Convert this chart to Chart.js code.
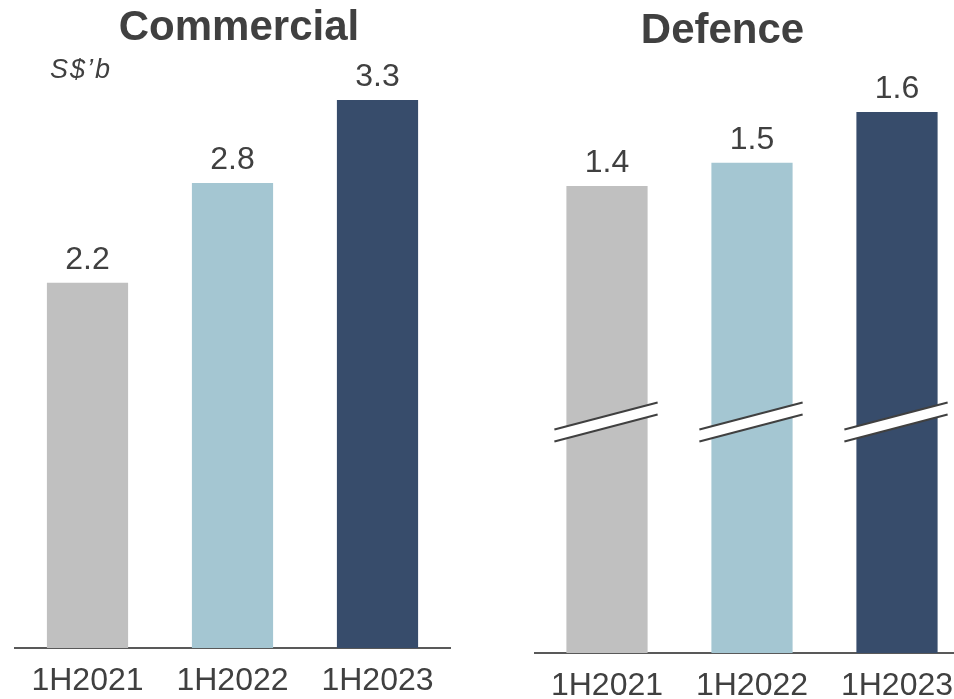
<!DOCTYPE html>
<html>
<head>
<meta charset="utf-8">
<title>Commercial / Defence</title>
<script src="https://cdn.jsdelivr.net/npm/chart.js@4/dist/chart.umd.min.js"></script>
<style>
  html, body { margin: 0; padding: 0; background: #fff; overflow: hidden; width: 954px; height: 699px; }
  .panel { position: absolute; top: 0; }
  #commercialWrap { left: 0; }
  #defenceWrap { left: 500px; }
</style>
</head>
<body>
<div class="panel" id="commercialWrap"><canvas id="commercialChart" width="478" height="699"></canvas></div>
<div class="panel" id="defenceWrap"><canvas id="defenceChart" width="480" height="699"></canvas></div>
<script>
  // ========== DATA ==========
  const periods = ['1H2021', '1H2022', '1H2023'];
  const commercialValues = [2.2, 2.8, 3.3];
  const defenceValues = [1.42, 1.47, 1.58];
  const defenceBreakAt = 0.91; // where the axis break sits on the defence bars

  const barColors = ['#C0C0C0', '#A4C6D2', '#374C6B'];
  const textColor = '#404040';
  const FONT = '"Liberation Sans", Arial, sans-serif';

  // titles + unit note
  const panelText = {
    id: 'panelText',
    afterDraw(chart, args, opts) {
      const ctx = chart.ctx;
      ctx.save();
      ctx.fillStyle = textColor;
      ctx.textAlign = 'center';
      ctx.textBaseline = 'alphabetic';
      ctx.font = 'bold 42px ' + FONT;
      ctx.fillText(opts.title, opts.titleX, opts.titleY);
      if (opts.unit) {
        ctx.textAlign = 'left';
        ctx.font = 'italic 27px ' + FONT;
        ctx.letterSpacing = '2px';
        ctx.fillText(opts.unit, chart.chartArea.left + 35, opts.unitY);
      }
      ctx.restore();
    }
  };

  // value on top of each bar
  const valueLabels = {
    id: 'valueLabels',
    afterDatasetsDraw(chart, args, opts) {
      const ctx = chart.ctx;
      const data = chart.data.datasets[0].data;
      ctx.save();
      ctx.fillStyle = textColor;
      ctx.font = '32px ' + FONT;
      ctx.textAlign = 'center';
      ctx.textBaseline = 'alphabetic';
      chart.getDatasetMeta(0).data.forEach((bar, i) => {
        ctx.fillText(data[i].toFixed(1), bar.x, bar.y - opts.gap);
      });
      ctx.restore();
    }
  };

  // slanted double line showing the cut axis
  const axisBreaks = {
    id: 'axisBreaks',
    afterDatasetsDraw(chart, args, opts) {
      if (opts.value == null) return;
      const ctx = chart.ctx;
      const cy = chart.scales.y.getPixelForValue(opts.value);
      const slope = 27 / 103;
      chart.getDatasetMeta(0).data.forEach(bar => {
        const x0 = bar.x - bar.width / 2 - 12, x1 = bar.x + bar.width / 2 + 10;
        const yAt = (x, off) => cy + off - slope * (x - bar.x);
        ctx.save();
        ctx.beginPath();
        ctx.moveTo(x0, yAt(x0, -6)); ctx.lineTo(x1, yAt(x1, -6));
        ctx.lineTo(x1, yAt(x1, 6)); ctx.lineTo(x0, yAt(x0, 6));
        ctx.closePath();
        ctx.fillStyle = '#fff';
        ctx.fill();
        ctx.strokeStyle = '#404040';
        ctx.lineWidth = 2;
        [-6, 6].forEach(off => {
          ctx.beginPath();
          ctx.moveTo(x0, yAt(x0, off));
          ctx.lineTo(x1, yAt(x1, off));
          ctx.stroke();
        });
        ctx.restore();
      });
    }
  };

  function makePanel(canvasId, values, o) {
    return new Chart(document.getElementById(canvasId), {
      type: 'bar',
      data: {
        labels: periods,
        datasets: [{ data: values, backgroundColor: barColors, borderWidth: 0, barPercentage: 0.56, categoryPercentage: 1 }]
      },
      options: {
        responsive: false,
        animation: false,
        layout: { padding: o.padding },
        plugins: {
          legend: { display: false },
          tooltip: { enabled: false },
          title: { display: false },
          panelText: { title: o.title, titleX: o.titleX, titleY: o.titleY, unit: o.unit, unitY: o.unitY },
          valueLabels: { gap: o.gap },
          axisBreaks: { value: o.breakAt }
        },
        scales: {
          x: {
            grid: { display: false },
            border: { display: true, color: '#595959', width: 2 },
            ticks: { color: textColor, font: { family: FONT, size: 32 }, padding: o.tickPad, maxRotation: 0, autoSkip: false },
            afterFit: s => { s.height = o.axisHeight; }
          },
          y: { display: false, min: o.min, max: o.max }
        }
      },
      plugins: [panelText, valueLabels, axisBreaks]
    });
  }

  makePanel('commercialChart', commercialValues, {
    padding: { top: 100, left: 15, right: 28, bottom: 0 },
    axisHeight: 51, tickPad: 6, min: 0, max: 3.3, gap: 14,
    title: 'Commercial', titleX: 239, titleY: 40, unit: 'S$\u2019b', unitY: 78
  });

  makePanel('defenceChart', defenceValues, {
    padding: { top: 112, left: 34.5, right: 10.5, bottom: 0 },
    axisHeight: 46, tickPad: 6, min: 0.41, max: 1.58, gap: 14, breakAt: defenceBreakAt,
    title: 'Defence', titleX: 222.5, titleY: 43
  });
</script>
</body>
</html>
